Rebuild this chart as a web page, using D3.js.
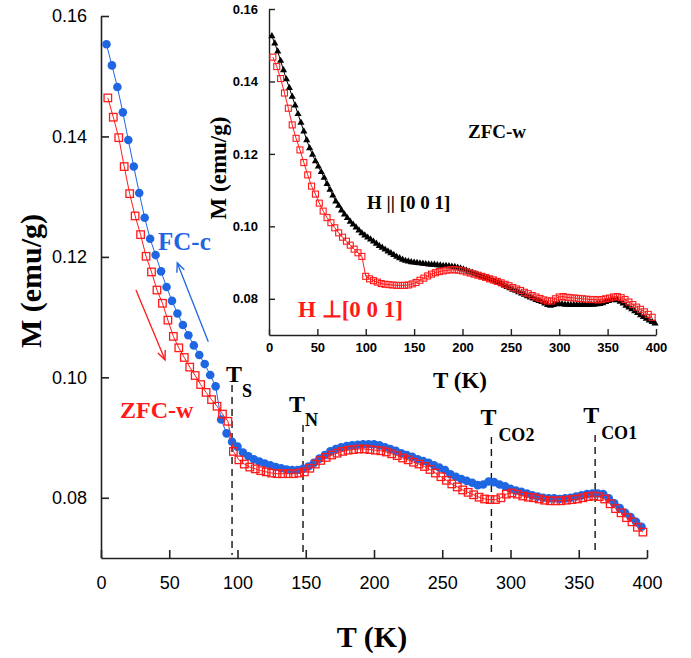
<!DOCTYPE html>
<html>
<head>
<meta charset="utf-8">
<script src="https://cdn.jsdelivr.net/npm/d3@7"></script>
<style>
  body { margin: 0; background: #fff; }
  text { fill: #000; }
</style>
</head>
<body>
<svg id="chart" width="691" height="658"></svg>
<script>
// ---- data ----
// main panel, FC-c (blue filled circles)
const fcTemps = [
  4, 8, 12, 16, 20, 24, 28, 32, 36, 40,
  44, 48, 52, 56, 60, 64, 68, 72, 76, 80,
  84, 88, 92, 96, 100, 104, 108, 112, 116, 120,
  124, 128, 132, 136, 140, 144, 148, 152, 156, 160,
  164, 168, 172, 176, 180, 184, 188, 192, 196, 200,
  204, 208, 212, 216, 220, 224, 228, 232, 236, 240,
  244, 248, 252, 256, 260, 264, 268, 272, 276, 280,
  284, 288, 292, 296, 300, 304, 308, 312, 316, 320,
  324, 328, 332, 336, 340, 344, 348, 352, 356, 360,
  364, 368, 372, 376, 380, 384, 388, 392, 396
];
const fcValues = [
  .1553, .1518, .1482, .1440, .1394, .1350, .1306, .1265, .1230, .1203,
  .1176, .1150, .1127, .1106, .1087, .1070, .1053, .1037, .1022, .1004,
  .0985, .0930, .0907, .0893, .0885, .0875, .0869, .0864, .0860, .0857,
  .0854, .0851, .0849, .0847, .0846, .0846, .0848, .0852, .0858, .0865,
  .0871, .0877, .0881, .0884, .0886, .0887, .0888, .0889, .0889, .0889,
  .0887, .0884, .0881, .0878, .0874, .0871, .0868, .0864, .0861, .0858,
  .0854, .0850, .0846, .0839, .0835, .0831, .0828, .0825, .0821, .0822,
  .0827, .0826, .0822, .0819, .0815, .0812, .0810, .0807, .0804, .0802,
  .0800, .0799, .0799, .0798, .0799, .0800, .0802, .0804, .0806, .0807,
  .0807, .0806, .0799, .0791, .0783, .0775, .0768, .0760, .0752
];

// main panel, ZFC-w (red open squares)
const zfcTemps = [
  5, 9, 13, 17, 21, 25, 29, 33, 37, 41,
  45, 49, 53, 57, 61, 65, 69, 73, 77, 81,
  85, 89, 93, 97, 101, 105, 109, 113, 117, 121,
  125, 129, 133, 137, 141, 145, 149, 153, 157, 161,
  165, 169, 173, 177, 181, 185, 189, 193, 197, 201,
  205, 209, 213, 217, 221, 225, 229, 233, 237, 241,
  245, 249, 253, 257, 261, 265, 269, 273, 277, 281,
  285, 289, 293, 297, 301, 305, 309, 313, 317, 321,
  325, 329, 333, 337, 341, 345, 349, 353, 357, 361,
  365, 369, 373, 377, 381, 385, 389, 393, 397
];
const zfcValues = [
  .1464, .1432, .1398, .1350, .1305, .1268, .1237, .1201, .1175, .1145,
  .1123, .1095, .1068, .1049, .1033, .1017, .1003, .0988, .0975, .0963,
  .0952, .0939, .0927, .0877, .0863, .0856, .0851, .0848, .0845, .0843,
  .0841, .0840, .0840, .0840, .0840, .0841, .0843, .0849, .0856, .0862,
  .0867, .0871, .0874, .0877, .0879, .0880, .0881, .0881, .0880, .0879,
  .0878, .0876, .0873, .0870, .0866, .0863, .0859, .0856, .0852, .0847,
  .0841, .0835, .0829, .0823, .0818, .0813, .0809, .0805, .0801, .0798,
  .0797, .0797, .0800, .0806, .0808, .0806, .0803, .0801, .0800, .0798,
  .0796, .0795, .0795, .0795, .0796, .0797, .0798, .0800, .0802, .0803,
  .0802, .0798, .0790, .0782, .0775, .0767, .0760, .0751, .0743
];

// inset, H || [0 0 1] (black triangles)
const parTemps = [
  3, 6, 9, 12, 15, 18, 21, 24, 27, 30,
  33, 36, 39, 42, 45, 48, 51, 54, 57, 60,
  63, 66, 69, 72, 75, 78, 81, 84, 87, 90,
  93, 96, 99, 102, 105, 108, 111, 114, 117, 120,
  123, 126, 129, 132, 135, 138, 141, 144, 147, 150,
  153, 156, 159, 162, 165, 168, 171, 174, 177, 180,
  183, 186, 189, 192, 195, 198, 201, 204, 207, 210,
  213, 216, 219, 222, 225, 228, 231, 234, 237, 240,
  243, 246, 249, 252, 255, 258, 261, 264, 267, 270,
  273, 276, 279, 282, 285, 288, 291, 294, 297, 300,
  303, 306, 309, 312, 315, 318, 321, 324, 327, 330,
  333, 336, 339, 342, 345, 348, 351, 354, 357, 360,
  363, 366, 369, 372, 375, 378, 381, 384, 387, 390,
  393, 396, 399
];
const parValues = [
  .1525, .1505, .1483, .1457, .1431, .1406, .1382, .1358, .1334, .1310,
  .1286, .1262, .1238, .1216, .1198, .1180, .1165, .1150, .1134, .1117,
  .1101, .1085, .1069, .1057, .1044, .1033, .1023, .1013, .1005, .0997,
  .0989, .0981, .0975, .0969, .0964, .0958, .0952, .0946, .0941, .0936,
  .0931, .0926, .0921, .0916, .0912, .0908, .0905, .0903, .0901, .0900,
  .0899, .0898, .0897, .0896, .0895, .0894, .0894, .0893, .0892, .0891,
  .0891, .0890, .0889, .0888, .0886, .0884, .0881, .0878, .0875, .0872,
  .0869, .0866, .0863, .0860, .0857, .0854, .0851, .0848, .0845, .0841,
  .0837, .0833, .0829, .0825, .0822, .0818, .0815, .0811, .0807, .0804,
  .0801, .0797, .0794, .0791, .0787, .0783, .0781, .0783, .0785, .0786,
  .0785, .0784, .0784, .0783, .0783, .0783, .0783, .0783, .0783, .0783,
  .0784, .0784, .0785, .0786, .0788, .0791, .0794, .0796, .0797, .0796,
  .0792, .0787, .0781, .0776, .0771, .0766, .0761, .0755, .0750, .0745,
  .0740, .0736, .0732
];

// inset, H ⊥ [0 0 1] (red open squares), same temperature grid as FC-c
const perpTemps = fcTemps;
const perpValues = [
  .1467, .1441, .1408, .1368, .1326, .1280, .1243, .1211, .1176, .1142,
  .1111, .1089, .1064, .1042, .1024, .1010, .0996, .0982, .0970, .0959,
  .0948, .0937, .0927, .0917, .0862, .0855, .0850, .0846, .0842, .0840,
  .0839, .0838, .0837, .0837, .0837, .0838, .0841, .0845, .0851, .0857,
  .0863, .0868, .0872, .0875, .0877, .0879, .0880, .0880, .0879, .0877,
  .0874, .0871, .0868, .0865, .0862, .0859, .0855, .0852, .0848, .0844,
  .0840, .0836, .0831, .0827, .0823, .0818, .0814, .0809, .0805, .0801,
  .0797, .0794, .0794, .0800, .0805, .0806, .0804, .0803, .0802, .0801,
  .0800, .0799, .0798, .0798, .0797, .0798, .0800, .0802, .0805, .0806,
  .0803, .0798, .0791, .0784, .0777, .0771, .0764, .0757, .0749
];

// transition temperatures marked by dashed lines
const transitionNames = ['S', 'N', 'CO2', 'CO1'];
const transitionTemps = [96, 148, 286, 362];

// tick labels
const tempTicks = [0, 50, 100, 150, 200, 250, 300, 350, 400];
const magTicks = [0.08, 0.10, 0.12, 0.14, 0.16];

// ---- drawing ----
const BLUE = '#1f66e3';
const RED = '#ff1a1a';
const SERIF = '"Liberation Serif", "Times New Roman", serif';
const SANS = '"Liberation Sans", Arial, sans-serif';

const svg = d3.select('#chart');
svg.append('rect').attr('width', 691).attr('height', 658).attr('fill', '#fff');

const defs = svg.append('defs');
[['arrow-blue', BLUE], ['arrow-red', RED]].forEach(([id, col]) => {
    defs.append('marker')
        .attr('id', id)
        .attr('viewBox', '-10 -6 12 12')
        .attr('markerWidth', 12).attr('markerHeight', 12)
        .attr('markerUnits', 'userSpaceOnUse')
        .attr('orient', 'auto')
        .append('path')
        .attr('d', 'M-9,-4 L0,0 L-9,4')
        .attr('fill', 'none')
        .attr('stroke', col)
        .attr('stroke-width', 1.4);
});

function zip(temps, vals) {
    return temps.map((t, i) => ({ t, m: vals[i] }));
}

function drawAxes(g, x, y, opts) {
    const xAxis = g.append('g')
        .attr('transform', `translate(0,${y.range()[0]})`)
        .call(d3.axisBottom(x).tickValues(tempTicks).tickSize(-opts.tick).tickSizeOuter(0).tickPadding(opts.xPad));
    const yAxis = g.append('g')
        .attr('transform', `translate(${x.range()[0]},0)`)
        .call(d3.axisLeft(y).tickValues(magTicks).tickFormat(d3.format('.2f'))
            .tickSize(-opts.tick).tickSizeOuter(0).tickPadding(opts.yPad));
    [xAxis, yAxis].forEach(a => {
        a.selectAll('path.domain').attr('stroke', '#222').attr('stroke-width', opts.stroke);
        a.selectAll('.tick line').attr('stroke', '#222').attr('stroke-width', opts.stroke);
        a.selectAll('.tick text')
            .attr('font-family', SANS)
            .attr('font-size', opts.font)
            .attr('font-weight', opts.weight)
            .attr('fill', '#111');
    });
}

function drawSeries(g, x, y, data, opts) {
    g.append('path')
        .datum(data)
        .attr('fill', 'none')
        .attr('stroke', opts.color)
        .attr('stroke-width', 1)
        .attr('d', d3.line().x(d => x(d.t)).y(d => y(d.m)));

    if (opts.shape === 'square') {
        g.selectAll(null).data(data).enter().append('rect')
            .attr('x', d => x(d.t) - opts.size / 2)
            .attr('y', d => y(d.m) - opts.size / 2)
            .attr('width', opts.size).attr('height', opts.size)
            .attr('fill', 'none')
            .attr('stroke', opts.color)
            .attr('stroke-width', opts.sw);
    } else {
        const sym = d3.symbol()
            .type(opts.shape === 'circle' ? d3.symbolCircle : d3.symbolTriangle)
            .size(opts.size);
        g.selectAll(null).data(data).enter().append('path')
            .attr('transform', d => `translate(${x(d.t)},${y(d.m)})`)
            .attr('d', sym)
            .attr('fill', opts.color);
    }
}

// main panel
const x = d3.scaleLinear().domain([0, 400]).range([101, 647]);
const y = d3.scaleLinear().domain([0.07, 0.16]).range([558, 16]);
const main = svg.append('g');

drawAxes(main, x, y, { tick: 8, xPad: 18, yPad: 14, font: 18, weight: 'normal', stroke: 1.6 });

// transition markers
const transLayout = {
    S:   { top: 385, tdx: -6,  tdy: 382, sdx: 10, sdy: 397 },
    N:   { top: 425, tdx: -14, tdy: 412, sdx: 2,  sdy: 426 },
    CO2: { top: 437, tdx: -11, tdy: 425, sdx: 7,  sdy: 441 },
    CO1: { top: 435, tdx: -12, tdy: 423, sdx: 6,  sdy: 439 }
};
transitionNames.forEach((name, i) => {
    const tx = x(transitionTemps[i]);
    const L = transLayout[name];
    main.append('line')
        .attr('x1', tx).attr('x2', tx)
        .attr('y1', L.top).attr('y2', y(0.07) - 3)
        .attr('stroke', '#111').attr('stroke-width', 1.4)
        .attr('stroke-dasharray', '7,5');
    main.append('text')
        .attr('x', tx + L.tdx).attr('y', L.tdy)
        .attr('font-family', SERIF).attr('font-weight', 'bold').attr('font-size', 24)
        .text('T');
    main.append('text')
        .attr('x', tx + L.sdx).attr('y', L.sdy)
        .attr('font-family', SERIF).attr('font-weight', 'bold').attr('font-size', 18)
        .text(name);
});

drawSeries(main, x, y, zip(fcTemps, fcValues), { color: BLUE, shape: 'circle', size: 58 });
drawSeries(main, x, y, zip(zfcTemps, zfcValues), { color: RED, shape: 'square', size: 7.5, sw: 1.3 });

// arrows showing sweep direction
main.append('line')
    .attr('x1', x(78.6)).attr('y1', y(0.1059))
    .attr('x2', x(55.9)).attr('y2', y(0.1190))
    .attr('stroke', BLUE).attr('stroke-width', 1.3)
    .attr('marker-end', 'url(#arrow-blue)');
main.append('line')
    .attr('x1', x(25.6)).attr('y1', y(0.1145))
    .attr('x2', x(46.9)).attr('y2', y(0.1029))
    .attr('stroke', RED).attr('stroke-width', 1.3)
    .attr('marker-end', 'url(#arrow-red)');

main.append('text')
    .attr('x', 158).attr('y', 250)
    .attr('font-family', SERIF).attr('font-weight', 'bold').attr('font-size', 25)
    .style('fill', BLUE)
    .text('FC-c');
main.append('text')
    .attr('x', 120).attr('y', 418)
    .attr('font-family', SERIF).attr('font-weight', 'bold').attr('font-size', 24)
    .style('fill', RED)
    .text('ZFC-w');

main.append('text')
    .attr('x', 372).attr('y', 647)
    .attr('text-anchor', 'middle')
    .attr('font-family', SERIF).attr('font-weight', 'bold').attr('font-size', 30)
    .text('T (K)');
main.append('text')
    .attr('transform', 'translate(41,281) rotate(-90)')
    .attr('text-anchor', 'middle')
    .attr('font-family', SERIF).attr('font-weight', 'bold').attr('font-size', 30)
    .text('M (emu/g)');

// inset panel
const ix = d3.scaleLinear().domain([0, 400]).range([269, 656]);
const iy = d3.scaleLinear().domain([0.07, 0.16]).range([335, 9]);
const inset = svg.append('g');

drawAxes(inset, ix, iy, { tick: 6, xPad: 8, yPad: 11, font: 13, weight: 'bold', stroke: 1.4 });

drawSeries(inset, ix, iy, zip(parTemps, parValues), { color: '#000', shape: 'triangle', size: 22 });
drawSeries(inset, ix, iy, zip(perpTemps, perpValues), { color: RED, shape: 'square', size: 6, sw: 1.1 });

inset.append('text')
    .attr('x', 468).attr('y', 138)
    .attr('font-family', SERIF).attr('font-weight', 'bold').attr('font-size', 19)
    .text('ZFC-w');
inset.append('text')
    .attr('x', 367).attr('y', 209)
    .attr('font-family', SERIF).attr('font-weight', 'bold').attr('font-size', 19)
    .text('H || [0 0 1]');
inset.append('text')
    .attr('x', 298).attr('y', 317)
    .attr('font-family', SERIF).attr('font-weight', 'bold').attr('font-size', 23)
    .style('fill', RED)
    .text('H ⊥[0 0 1]');

inset.append('text')
    .attr('x', 460).attr('y', 388)
    .attr('text-anchor', 'middle')
    .attr('font-family', SERIF).attr('font-weight', 'bold').attr('font-size', 23)
    .text('T (K)');
inset.append('text')
    .attr('transform', 'translate(226,168) rotate(-90)')
    .attr('text-anchor', 'middle')
    .attr('font-family', SERIF).attr('font-weight', 'bold').attr('font-size', 23)
    .text('M (emu/g)');
</script>
</body>
</html>
